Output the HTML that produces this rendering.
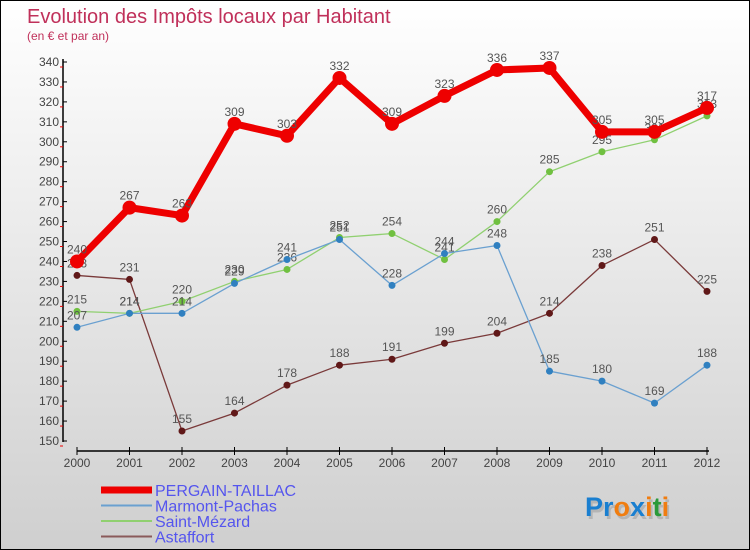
<!DOCTYPE html>
<html><head><meta charset="utf-8"><style>
body{margin:0}
#c{width:750px;height:550px;position:relative;overflow:hidden;box-sizing:border-box;border:1px solid #000;background:linear-gradient(#ffffff,#cfcfcf);font-family:"Liberation Sans",sans-serif}
</style></head><body>
<div id="c">
<svg id="s" width="750" height="550" style="position:absolute;left:0;top:0">
<text x="26" y="22" font-size="20" fill="#c0305a">Evolution des Impôts locaux par Habitant</text>
<text x="26" y="39" font-size="12" fill="#c0305a">(en € et par an)</text>
<g id="axes"></g><g id="series"></g>
<text x="586" y="518" font-size="27" font-weight="bold" fill="#999" opacity="0.5">Proxiti</text>
<text x="584" y="515" font-size="27" font-weight="bold"><tspan fill="#1a7fd0">Pr</tspan><tspan fill="#f07d10">o</tspan><tspan fill="#1a7fd0">x</tspan><tspan fill="#f07d10">i</tspan><tspan fill="#2a9a3a">t</tspan><tspan fill="#f07d10">i</tspan></text>
</svg>
</div>
<script>
const years=[2000,2001,2002,2003,2004,2005,2006,2007,2008,2009,2010,2011,2012];
const pergain=[240,267,263,309,303,332,309,323,336,337,305,305,317];
const marmont=[207,214,214,229,241,251,228,244,248,185,180,169,188];
const saintMezard=[215,214,220,230,236,252,254,241,260,285,295,301,313];
const astaffort=[233,231,155,164,178,188,191,199,204,214,238,251,225];
const yTicks=[150,160,170,180,190,200,210,220,230,240,250,260,270,280,290,300,310,320,330,340];
const NS="http://www.w3.org/2000/svg";
const X=i=>76+i*52.5, Y=v=>440-(v-150)*(379/190);
function mk(t,a,p){const e=document.createElementNS(NS,t);for(const k in a)e.setAttribute(k,a[k]);p.appendChild(e);return e;}
const ax=document.getElementById('axes'), sg=document.getElementById('series');
let e=mk('line',{x1:62,y1:58,x2:62,y2:441,stroke:'#000','stroke-width':1.5},ax);

e=mk('line',{x1:76,y1:450,x2:708,y2:450,stroke:'#000','stroke-width':1.5},ax);

yTicks.forEach(v=>{const y=Y(v);
 mk('line',{x1:62,y1:y,x2:66,y2:y,stroke:'#000'},ax);
 mk('line',{x1:59,y1:y+5,x2:62,y2:y+5,stroke:'#e00'},ax);
 const t=mk('text',{x:58,y:y+4,'font-size':12,'text-anchor':'end',fill:'#444'},ax);t.textContent=v;
 });
years.forEach((yr,i)=>{const x=X(i);
 mk('line',{x1:x,y1:446,x2:x,y2:454,stroke:'#000'},ax);
 const t=mk('text',{x:x,y:466,'font-size':12,'text-anchor':'middle',fill:'#444'},ax);t.textContent=yr;
 });
function series(name,vals,color,w,r,dot){
 const g=mk('g',{},sg);
 mk('polyline',{points:vals.map((v,i)=>X(i)+','+Y(v)).join(' '),fill:'none',stroke:color,'stroke-width':w,'stroke-linejoin':'round'},g);
 vals.forEach((v,i)=>{const c=mk('circle',{cx:X(i),cy:Y(v),r:r,fill:dot},g);
  
  const t=mk('text',{x:X(i),y:Y(v)-8,'font-size':12,'text-anchor':'middle',fill:'#555'},g);t.textContent=v;});
}
series('astaffort',astaffort,'#7a3a3a',1.3,3.5,'#601818');
series('saint-mezard',saintMezard,'#90d070',1.3,3.5,'#70c040');
series('marmont',marmont,'#6aa0d0',1.3,3.5,'#3080c0');
series('pergain',pergain,'#ee0000',7,7,'#ee0000');
const leg=[['PERGAIN-TAILLAC','#ee0000',7],['Marmont-Pachas','#6aa0d0',2],['Saint-Mézard','#90d070',2],['Astaffort','#8a5a5a',2]];
leg.forEach((l,i)=>{const y=493+i*15.5;
 const g=mk('g',{},sg);
 mk('line',{x1:100,y1:y-4,x2:151,y2:y-4,stroke:l[1],'stroke-width':l[2]},g);
 const t=mk('text',{x:154,y:y+2,'font-size':16,fill:'#5555ee'},g);t.textContent=l[0];});
</script>
</body></html>
